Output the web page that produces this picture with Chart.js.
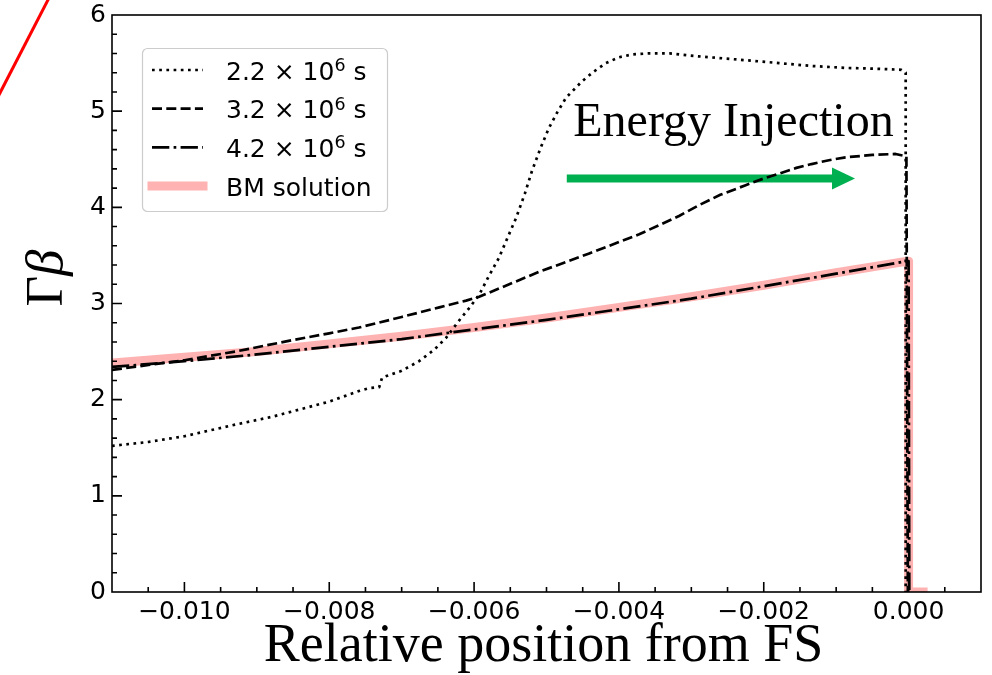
<!DOCTYPE html>
<html>
<head>
<meta charset="utf-8">
<script src="https://cdn.jsdelivr.net/npm/chart.js@4.4.1/dist/chart.umd.min.js"></script>
<style>
  html, body { margin: 0; padding: 0; background: #fff; }
  #box { position: relative; width: 992px; height: 675px; overflow: hidden; }
  #box canvas { position: absolute; left: 0; top: 0; }
  /* stray red stroke in the top-left corner */
  #stray { position: absolute; left: -6px; top: 103px; width: 130px; height: 3px; background: #ff0000;
           transform-origin: 0 50%; transform: rotate(-62.7deg); }
</style>
</head>
<body>
<div id="box">
  <canvas id="c" width="992" height="675"></canvas>
  <div id="stray"></div>
</div>
<script>
const xTickVals = [-0.010, -0.008, -0.006, -0.004, -0.002, 0.000];
const yTickVals = [0, 1, 2, 3, 4, 5, 6];
const seriesNames = ['2.2 × 10^6 s', '3.2 × 10^6 s', '4.2 × 10^6 s', 'BM solution'];

// t = 2.2e6 s
const x22 = [-0.0110, -0.0105, -0.0100, -0.0093, -0.0088, -0.0084, -0.0080, -0.00759, -0.00745, -0.00731,
             -0.00727, -0.0070, -0.00676, -0.00655, -0.00639, -0.00621, -0.00607, -0.00593, -0.0058, -0.00566,
             -0.00554, -0.00542, -0.0053, -0.0052, -0.00508, -0.00497, -0.00485, -0.00473, -0.00451, -0.00435,
             -0.00418, -0.0040, -0.00382, -0.0036, -0.0033, -0.0029, -0.00225, -0.00179, -0.00134, -0.00087,
             -0.0004, -0.0001, -0.00004, -0.00004];
const y22 = [1.52, 1.56, 1.62, 1.74, 1.82, 1.90, 1.98, 2.09, 2.12, 2.13,
             2.23, 2.30, 2.40, 2.52, 2.64, 2.82, 2.95, 3.09, 3.28, 3.47,
             3.68, 3.89, 4.14, 4.38, 4.62, 4.82, 4.99, 5.14, 5.31, 5.41,
             5.50, 5.56, 5.59, 5.60, 5.60, 5.57, 5.53, 5.50, 5.47, 5.45,
             5.44, 5.43, 5.40, 0];

// t = 3.2e6 s
const x32 = [-0.0110, -0.0100, -0.0093, -0.0085, -0.0080, -0.00759, -0.0070, -0.00648, -0.00611, -0.00593,
             -0.0051, -0.00441, -0.00372, -0.00317, -0.0029, -0.0026, -0.00225, -0.0020, -0.00179, -0.00155,
             -0.00134, -0.0011, -0.00087, -0.0005, -0.00018, -0.00003, -0.00001];
const y32 = [2.31, 2.41, 2.50, 2.62, 2.69, 2.75, 2.86, 2.96, 3.03, 3.07,
             3.33, 3.52, 3.72, 3.91, 4.02, 4.13, 4.23, 4.30, 4.35, 4.41,
             4.45, 4.49, 4.52, 4.545, 4.555, 4.53, 0];

// t = 4.2e6 s
const x42 = [-0.011, -0.010, -0.009, -0.008, -0.007, -0.006, -0.005, -0.004, -0.003, -0.002, -0.001, -0.0001, 0.0, 0.00001];
const y42 = [2.34, 2.40, 2.47, 2.55, 2.63, 2.73, 2.83, 2.94, 3.05, 3.18, 3.31, 3.43, 3.44, 0];

// Blandford-McKee profile
const xBM = [-0.011, -0.010, -0.009, -0.008, -0.007, -0.006, -0.005, -0.004, -0.003, -0.002, -0.001, -0.0001, 0.0, 0.0, 0.0002];
const yBM = [2.38, 2.44, 2.50, 2.58, 2.66, 2.75, 2.85, 2.96, 3.07, 3.19, 3.32, 3.43, 3.44, 0, 0];

const arrowFrom = [-0.00472, 4.30];
const arrowTo = [-0.00074, 4.30];
const noteAt = [-0.00463, 4.74];
const noteText = 'Energy Injection';

const pts = (xs, ys) => xs.map((x, i) => ({x: x, y: ys[i]}));

Chart.defaults.font.family = '"DejaVu Sans", sans-serif';
Chart.defaults.color = '#000';

function drawLabel(ctx, text, x, y) {
  const parts = text.split('^');
  ctx.font = '25px "DejaVu Sans"';
  ctx.fillText(parts[0], x, y);
  if (parts.length < 2) return;
  let cx = x + ctx.measureText(parts[0]).width;
  const sup = parts[1][0], tail = parts[1].slice(1);
  ctx.font = '17.5px "DejaVu Sans"';
  ctx.fillText(sup, cx, y - 8.5);
  cx += ctx.measureText(sup).width;
  ctx.font = '25px "DejaVu Sans"';
  ctx.fillText(tail, cx, y);
}

// green arrow + caption, under the curves
const note = {
  id: 'note',
  beforeDatasetsDraw(chart) {
    const {ctx, scales: {x, y}} = chart;
    const x0 = x.getPixelForValue(arrowFrom[0]), y0 = y.getPixelForValue(arrowFrom[1]);
    const x1 = x.getPixelForValue(arrowTo[0]);
    const head = 23;
    ctx.save();
    ctx.fillStyle = '#00b050';
    ctx.fillRect(x0, y0 - 4, x1 - head - x0 + 1, 8);
    ctx.beginPath();
    ctx.moveTo(x1 - head, y0 - 11);
    ctx.lineTo(x1, y0);
    ctx.lineTo(x1 - head, y0 + 11);
    ctx.closePath();
    ctx.fill();
    ctx.fillStyle = '#000';
    ctx.font = '48px "Liberation Serif"';
    ctx.textBaseline = 'alphabetic';
    ctx.fillText(noteText, x.getPixelForValue(noteAt[0]), y.getPixelForValue(noteAt[1]));
    ctx.restore();
  }
};

// frame, inward ticks, legend box and axis titles
const decor = {
  id: 'decor',
  afterDraw(chart) {
    const {ctx, chartArea: a, scales: {x, y}} = chart;
    ctx.save();
    ctx.strokeStyle = '#000';
    ctx.lineWidth = 1.6;
    ctx.beginPath();
    for (let k = -21; k <= 1; k++) {
      const px = x.getPixelForValue(k * 0.0005);
      const len = k % 4 === 0 ? 10 : 5;
      ctx.moveTo(px, a.bottom);
      ctx.lineTo(px, a.bottom - len);
    }
    for (let k = 1; k < 30; k++) {
      const py = y.getPixelForValue(k * 0.2);
      const len = k % 5 === 0 ? 10 : 5;
      ctx.moveTo(a.left, py);
      ctx.lineTo(a.left + len, py);
    }
    ctx.stroke();
    ctx.strokeRect(a.left, a.top, a.right - a.left, a.bottom - a.top);

    // legend
    ctx.fillStyle = 'rgba(255,255,255,0.8)';
    ctx.strokeStyle = '#cccccc';
    ctx.lineWidth = 1.2;
    ctx.beginPath();
    ctx.roundRect(142.5, 48.5, 245, 163, 5);
    ctx.fill();
    ctx.stroke();
    chart.data.datasets.forEach((ds, i) => {
      const cy = 70 + i * 38.7;
      ctx.setLineDash(ds.borderDash || []);
      ctx.strokeStyle = ds.borderColor;
      ctx.lineWidth = ds.borderWidth;
      ctx.lineCap = ds.borderCapStyle || 'butt';
      ctx.beginPath();
      ctx.moveTo(152, cy);
      ctx.lineTo(203, cy);
      ctx.stroke();
      ctx.setLineDash([]);
      ctx.fillStyle = '#000';
      ctx.textBaseline = 'alphabetic';
      drawLabel(ctx, ds.label, 226, cy + 9.5);
    });

    // axis titles
    ctx.fillStyle = '#000';
    ctx.font = '54px "Liberation Serif"';
    ctx.textAlign = 'center';
    ctx.fillText('Relative position from FS', (a.left + a.right) / 2 - 3, 661);
    ctx.textAlign = 'left';
    ctx.translate(62, 278);
    ctx.rotate(-Math.PI / 2);
    ctx.font = '53px "Liberation Serif"';
    const wG = ctx.measureText('Γ').width;
    ctx.font = 'italic 53px "Liberation Serif"';
    const wB = ctx.measureText('β').width;
    ctx.font = '53px "Liberation Serif"';
    ctx.fillText('Γ', -(wG + wB) / 2, 0);
    ctx.font = 'italic 53px "Liberation Serif"';
    ctx.fillText('β', -(wG + wB) / 2 + wG, 0);
    ctx.restore();
  }
};

new Chart(document.getElementById('c'), {
  type: 'line',
  data: {
    datasets: [
      {label: seriesNames[0], data: pts(x22, y22), borderColor: '#000', borderWidth: 2.7, borderDash: [2.7, 4.5]},
      {label: seriesNames[1], data: pts(x32, y32), borderColor: '#000', borderWidth: 2.7, borderDash: [10, 4.3]},
      {label: seriesNames[2], data: pts(x42, y42), borderColor: '#000', borderWidth: 2.7, borderDash: [17.3, 4.3, 2.7, 4.3]},
      {label: seriesNames[3], data: pts(xBM, yBM), borderColor: '#ffb2b2', borderWidth: 9, borderCapStyle: 'square'}
    ]
  },
  options: {
    responsive: false,
    animation: false,
    events: [],
    elements: {
      point: {radius: 0},
      line: {tension: 0, borderJoinStyle: 'round', fill: false}
    },
    layout: {padding: {top: 15, right: 11, left: 0, bottom: 0}},
    scales: {
      x: {
        type: 'linear', min: -0.011, max: 0.001,
        afterBuildTicks: s => { s.ticks = xTickVals.map(v => ({value: v})); },
        afterFit: s => { s.height = 83; s.paddingLeft = 0; s.paddingRight = 0; },
        grid: {display: false, drawTicks: false},
        border: {display: false},
        ticks: {
          padding: 5, color: '#000', font: {size: 25}, maxRotation: 0, autoSkip: false,
          callback: v => (v < -1e-12 ? '\u2212' : '') + Math.abs(v).toFixed(3)
        }
      },
      y: {
        type: 'linear', min: 0, max: 6,
        afterBuildTicks: s => { s.ticks = yTickVals.map(v => ({value: v})); },
        afterFit: s => { s.width = 112; s.paddingTop = 0; s.paddingBottom = 0; },
        grid: {display: false, drawTicks: false},
        border: {display: false},
        ticks: {padding: 6, color: '#000', font: {size: 25}}
      }
    },
    plugins: {
      legend: {display: false},
      tooltip: {enabled: false}
    }
  },
  plugins: [note, decor]
});
</script>
</body>
</html>
